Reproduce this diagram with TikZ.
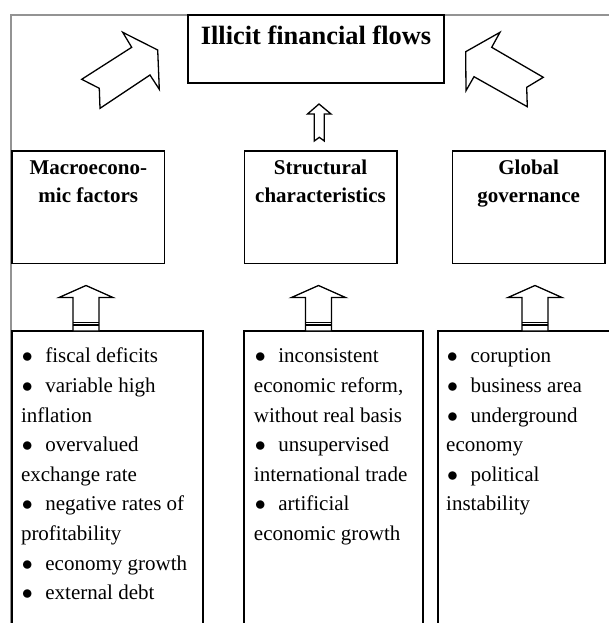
\documentclass[tikz,border=0pt]{standalone}
\usepackage{fontspec}
\setmainfont{Liberation Serif}
\usetikzlibrary{positioning}
% bullet with fixed indent for the lists
\newcommand{\itm}{\makebox[12.2pt][l]{\hspace{0.4pt}$\bullet$}}
% small block arrow, pointing up: centre x, tip y, foot y
\newcommand{\blockup}[3]{%
  \draw[blk] (#1,#2) -- (#1+27,#2+12) -- (#1+13,#2+12) -- (#1+13,#3)
    -- (#1-13,#3) -- (#1-13,#2+12) -- (#1-27,#2+12) -- cycle;
  \draw[line width=0.6pt] (#1-13,#3-8.5) -- (#1+13,#3-8.5);
  \draw[line width=0.6pt] (#1-13,#3-6) -- (#1+13,#3-6);}

\begin{document}
\begin{tikzpicture}[x=0.5pt, y=-0.5pt,
  box/.style={draw, line width=0.8pt, inner sep=0pt},
  blk/.style={draw, line width=0.65pt, fill=white, line join=miter},
  frame/.style={draw=gray!85, line width=0.75pt},
  ttl/.style={font=\fontsize{13.2}{16}\selectfont\bfseries, inner sep=0pt, anchor=base},
  head/.style={font=\fontsize{10.5}{14}\selectfont\bfseries, align=center, inner sep=0pt, anchor=north},
  lst/.style={font=\fontsize{10.5}{14.8}\selectfont, align=left, inner sep=0pt, anchor=north west},
]
\path[use as bounding box, clip] (0,0) rectangle (609,623);
\fill[white] (0,0) rectangle (609,623);
\draw[frame] (11,640) |- (620,15);

% top
\node[box, minimum width=128pt, minimum height=34pt] (ifl) at (316,49) {};
\node[ttl] (iflt) at ([yshift=-15pt]ifl.north) {Illicit financial flows};

% the three groups of factors
\node[box, minimum width=76pt, minimum height=56.3pt] (mac) at (88.3,207) {};
\node[box, minimum width=76.2pt, minimum height=56.3pt] (str) at (320.5,207) {};
\node[box, minimum width=76.3pt, minimum height=56.3pt] (gov) at (528.7,207) {};
\node[head] (mact) at ([yshift=-2.35pt]mac.north) {\strut Macroecono-\\mic factors};
\node[head] (strt) at ([yshift=-2.35pt]str.north) {\strut Structural\\characteristics};
\node[head] (govt) at ([yshift=-2.35pt]gov.north) {\strut Global\\governance};

% lists (run off the bottom)
\node[box, minimum width=95.5pt, minimum height=154.5pt] (macl) at (107.5,485.5) {};
\node[box, minimum width=89.5pt, minimum height=154.5pt] (strl) at (333.5,485.5) {};
\node[box, minimum width=88.5pt, minimum height=154.5pt] (govl) at (526.5,485.5) {};
\node[lst] (maclt) at ([xshift=4.7pt, yshift=-5.8pt]macl.north west)
  {\strut\itm fiscal deficits\\\itm variable high\\inflation\\\itm overvalued\\exchange rate\\\itm negative rates of\\profitability\\\itm economy growth\\\itm external debt};
\node[lst] (strlt) at ([xshift=5.2pt, yshift=-5.8pt]strl.north west)
  {\strut\itm inconsistent\\economic reform,\\without real basis\\\itm unsupervised\\international trade\\\itm artificial\\economic growth};
\node[lst] (govlt) at ([xshift=4.3pt, yshift=-5.8pt]govl.north west)
  {\strut\itm coruption\\\itm business area\\\itm underground\\economy\\\itm political\\instability};

% block arrows list -> group
\blockup{86}{285.5}{331}
\blockup{318.5}{285.5}{331}
\blockup{535}{285.5}{331}

% structural -> flows, notched tail
\draw[blk] (319,104) -- (331,114) -- (324.3,114) -- (324.3,141) -- (319.3,137.3)
  -- (314.3,141) -- (314.3,114) -- (307.5,114) -- cycle;

% diagonal arrows into flows
\draw[blk] (122.7,32.3) -- (157.7,50) -- (159.3,89.3) -- (150,75) -- (100,108.3)
  -- (99.3,88.3) -- (81.7,79.3) -- (131.7,47.3) -- cycle;
\draw[blk] (500,32.3) -- (465.7,51.7) -- (466,90.7) -- (474,76.7) -- (527.3,106.7)
  -- (526.7,87.3) -- (543.3,77.3) -- (491.7,47.3) -- cycle;
\end{tikzpicture}
\end{document}
